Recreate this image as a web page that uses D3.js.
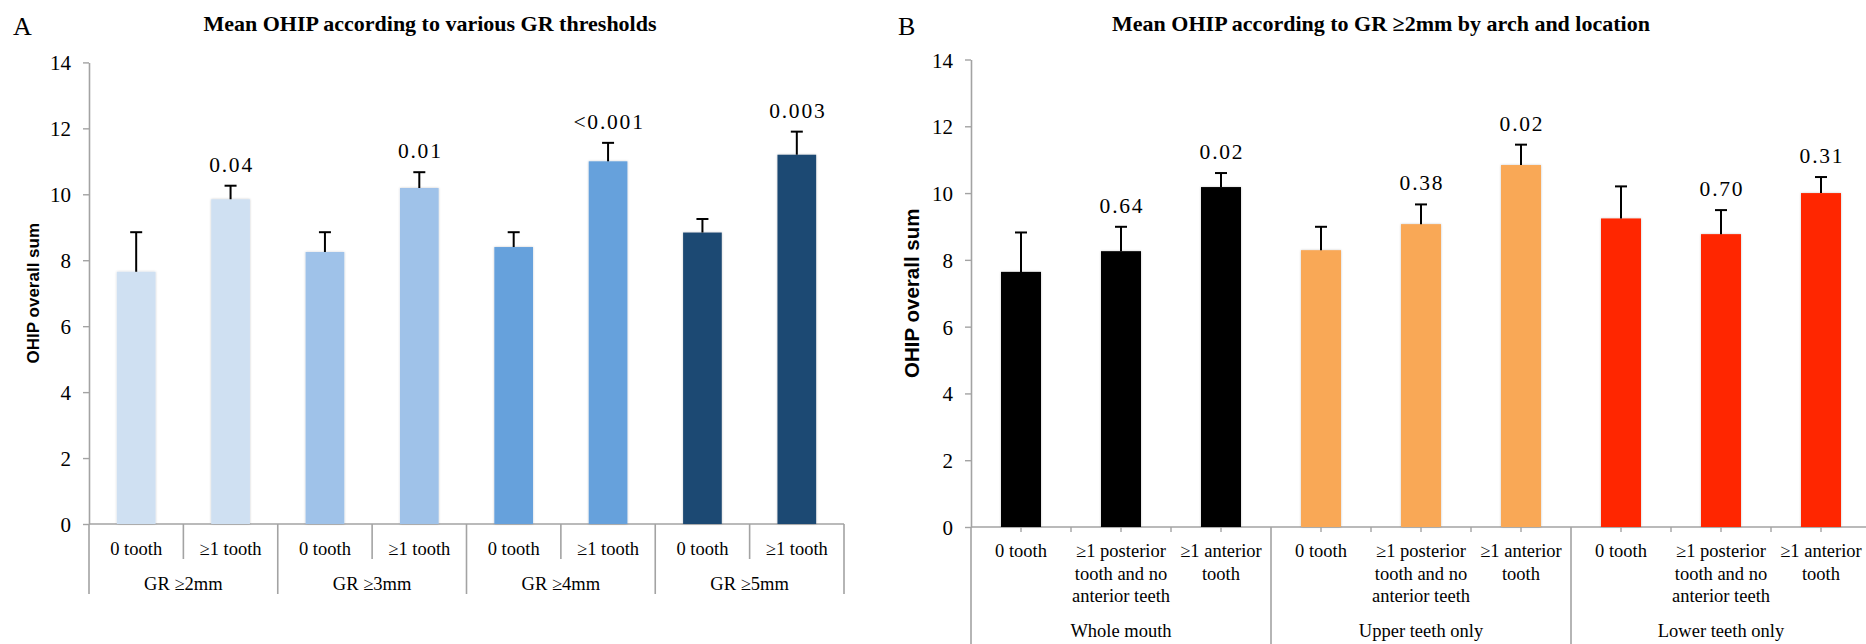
<!DOCTYPE html>
<html>
<head>
<meta charset="utf-8">
<script src="https://cdn.jsdelivr.net/npm/d3@7"></script>
<style>
  html, body { margin: 0; padding: 0; background: #fff; }
  svg { display: block; }
  text { font-family: "Liberation Serif", "Times New Roman", serif; fill: #000; }
</style>
</head>
<body>
<svg id="chart" width="1866" height="644"></svg>
<script>
// ---------------- Data: Panel A ----------------
const titleA = "Mean OHIP according to various GR thresholds";
const categoriesA = ["0 tooth", "≥1 tooth", "0 tooth", "≥1 tooth", "0 tooth", "≥1 tooth", "0 tooth", "≥1 tooth"];
const groupsA = ["GR ≥2mm", "GR ≥3mm", "GR ≥4mm", "GR ≥5mm"];
const meansA = [7.65, 9.85, 8.25, 10.19, 8.40, 11.00, 8.84, 11.20];
const errorsA = [1.20, 0.41, 0.60, 0.48, 0.45, 0.56, 0.41, 0.70];
const pValuesA = ["", "0.04", "", "0.01", "", "<0.001", "", "0.003"];
const colorsA = ["#cfe0f2", "#9fc2e9", "#66a1dc", "#1f4a73"];

// ---------------- Data: Panel B ----------------
const titleB = "Mean OHIP according to GR ≥2mm by arch and location";
const categoriesB = [
  ["0 tooth"], ["≥1 posterior", "tooth and no", "anterior teeth"], ["≥1 anterior", "tooth"],
  ["0 tooth"], ["≥1 posterior", "tooth and no", "anterior teeth"], ["≥1 anterior", "tooth"],
  ["0 tooth"], ["≥1 posterior", "tooth and no", "anterior teeth"], ["≥1 anterior", "tooth"]
];
const groupsB = ["Whole mouth", "Upper teeth only", "Lower teeth only"];
const meansB = [7.64, 8.26, 10.18, 8.29, 9.07, 10.84, 9.24, 8.77, 10.00];
const errorsB = [1.18, 0.73, 0.42, 0.70, 0.59, 0.61, 0.96, 0.72, 0.48];
const pValuesB = ["", "0.64", "0.02", "", "0.38", "0.02", "", "0.70", "0.31"];
const colorsB = ["#000000", "#f9a857", "#ff2600"];

const yTicks = [0, 2, 4, 6, 8, 10, 12, 14];
const yLabel = "OHIP overall sum";

// ---------------- Drawing ----------------
const svg = d3.select("#chart");
const AXIS = "#a3a3a3";
const SERIF = "'Liberation Serif', 'Times New Roman', serif";

const defs = svg.append("defs");
const f = defs.append("filter").attr("id", "shadow").attr("x", "-20%").attr("y", "-5%").attr("width", "140%").attr("height", "110%");
f.append("feDropShadow").attr("dx", 0).attr("dy", 0).attr("stdDeviation", 1.2)
  .attr("flood-color", "#000").attr("flood-opacity", 0.22);

function panel(opts) {
  const g = svg.append("g");
  const n = opts.means.length;
  const idx = d3.range(n);
  const x = d3.scaleBand().domain(idx).range([opts.x0, opts.x1])
    .paddingInner(opts.pad).paddingOuter(opts.pad / 2);
  const y = d3.scaleLinear().domain([0, 14]).range([opts.yBase, opts.yTop]);
  const step = x.step();
  const perGroup = n / opts.groups.length;

  // y axis
  const yAxis = g.append("g").attr("transform", `translate(${opts.x0},0)`)
    .call(d3.axisLeft(y).tickValues(yTicks).tickSize(6).tickSizeOuter(0).tickPadding(12));
  yAxis.attr("font-family", null).attr("font-size", null);
  yAxis.select(".domain").attr("stroke", AXIS).attr("stroke-width", 1.6);
  yAxis.selectAll(".tick line").attr("stroke", AXIS).attr("stroke-width", 1.4);
  yAxis.selectAll(".tick text")
    .style("font-family", SERIF).style("font-size", "21px")
    .attr("fill", "#000").attr("dy", "0.36em");

  // x axis baseline
  g.append("line").attr("x1", opts.x0).attr("x2", opts.x1)
    .attr("y1", y(0)).attr("y2", y(0)).attr("stroke", AXIS).attr("stroke-width", 1.6);

  // bars
  g.selectAll("rect.bar").data(idx).join("rect").attr("class", "bar")
    .attr("x", i => x(i)).attr("width", x.bandwidth())
    .attr("y", i => y(opts.means[i])).attr("height", i => y(0) - y(opts.means[i]))
    .attr("fill", i => opts.colors[Math.floor(i / perGroup)])
    .attr("filter", "url(#shadow)");

  // error bars
  const eb = g.selectAll("g.err").data(idx).join("g").attr("class", "err");
  eb.append("line")
    .attr("x1", i => x(i) + x.bandwidth() / 2).attr("x2", i => x(i) + x.bandwidth() / 2)
    .attr("y1", i => y(opts.means[i])).attr("y2", i => y(opts.means[i] + opts.errors[i]))
    .attr("stroke", "#000").attr("stroke-width", 2);
  eb.append("line")
    .attr("x1", i => x(i) + x.bandwidth() / 2 - 6).attr("x2", i => x(i) + x.bandwidth() / 2 + 6)
    .attr("y1", i => y(opts.means[i] + opts.errors[i])).attr("y2", i => y(opts.means[i] + opts.errors[i]))
    .attr("stroke", "#000").attr("stroke-width", 2);

  // p-values
  g.selectAll("text.pval").data(idx.filter(i => opts.pvals[i] !== "")).join("text").attr("class", "pval")
    .attr("x", i => x(i) + x.bandwidth() / 2 + 1)
    .attr("y", i => y(opts.means[i] + opts.errors[i]) - 14)
    .attr("text-anchor", "middle").style("font-size", "21.5px").attr("letter-spacing", "1.8px")
    .text(i => opts.pvals[i]);

  // category / group separators
  const groupEdges = d3.range(opts.groups.length + 1).map(k => opts.x0 + k * perGroup * step);
  g.selectAll("line.gsep").data(groupEdges).join("line").attr("class", "gsep")
    .attr("x1", d => d).attr("x2", d => d)
    .attr("y1", y(0)).attr("y2", opts.groupSepBottom)
    .attr("stroke", AXIS).attr("stroke-width", 1.6);

  if (opts.style === "A") {
    const catEdges = idx.filter(i => i % perGroup !== 0).map(i => opts.x0 + i * step);
    g.selectAll("line.csep").data(catEdges).join("line").attr("class", "csep")
      .attr("x1", d => d).attr("x2", d => d)
      .attr("y1", y(0)).attr("y2", y(0) + 35)
      .attr("stroke", AXIS).attr("stroke-width", 1.6);
  } else {
    const tickXs = [];
    idx.forEach(i => {
      tickXs.push(x(i) + x.bandwidth() / 2);
      if (i % perGroup !== 0) tickXs.push(opts.x0 + i * step);
    });
    g.selectAll("line.ctick").data(tickXs).join("line").attr("class", "ctick")
      .attr("x1", d => d).attr("x2", d => d)
      .attr("y1", y(0)).attr("y2", y(0) + 5)
      .attr("stroke", AXIS).attr("stroke-width", 1.4);
  }

  // category labels
  const cl = g.selectAll("text.cat").data(idx).join("text").attr("class", "cat")
    .attr("text-anchor", "middle").style("font-size", "18.5px")
    .attr("y", y(0) + opts.catOffset);
  cl.each(function(i) {
    const lines = Array.isArray(opts.cats[i]) ? opts.cats[i] : [opts.cats[i]];
    const t = d3.select(this);
    lines.forEach((ln, k) => {
      t.append("tspan").attr("x", x(i) + x.bandwidth() / 2)
        .attr("dy", k === 0 ? 0 : opts.lineH).text(ln);
    });
  });

  // group labels
  g.selectAll("text.grp").data(opts.groups).join("text").attr("class", "grp")
    .attr("text-anchor", "middle").style("font-size", "18.5px")
    .attr("x", (d, k) => (groupEdges[k] + groupEdges[k + 1]) / 2)
    .attr("y", y(0) + opts.groupOffset)
    .text(d => d);

  // y-axis title
  g.append("text")
    .attr("transform", `translate(${opts.yLabelX},${(opts.yBase + opts.yTop) / 2})} rotate(-90)`.replace("}", ""))
    .attr("text-anchor", "middle")
    .style("font-family", "'Liberation Sans', Arial, sans-serif")
    .style("font-weight", "bold").style("font-size", opts.yLabelSize + "px")
    .text(yLabel);

  // title & panel letter
  g.append("text").attr("x", opts.titleX).attr("y", 31).attr("text-anchor", "middle")
    .style("font-weight", "bold").style("font-size", "22px").text(opts.title);
  g.append("text").attr("x", opts.letterX).attr("y", 35).style("font-size", "26px").text(opts.letter);
}

panel({
  means: meansA, errors: errorsA, pvals: pValuesA, colors: colorsA,
  cats: categoriesA, groups: groupsA, title: titleA, letter: "A",
  x0: 89, x1: 844, yBase: 524, yTop: 62.4, pad: 0.59,
  groupSepBottom: 594, catOffset: 31, groupOffset: 66, lineH: 22,
  style: "A", yLabelX: 39, yLabelSize: 17, titleX: 430, letterX: 13
});

panel({
  means: meansB, errors: errorsB, pvals: pValuesB, colors: colorsB,
  cats: categoriesB, groups: groupsB, title: titleB, letter: "B",
  x0: 971, x1: 1871, yBase: 527, yTop: 59.5, pad: 0.6,
  groupSepBottom: 644, catOffset: 30, groupOffset: 110, lineH: 22.5,
  style: "B", yLabelX: 919, yLabelSize: 20.5, titleX: 1381, letterX: 898
});
</script>
</body>
</html>
